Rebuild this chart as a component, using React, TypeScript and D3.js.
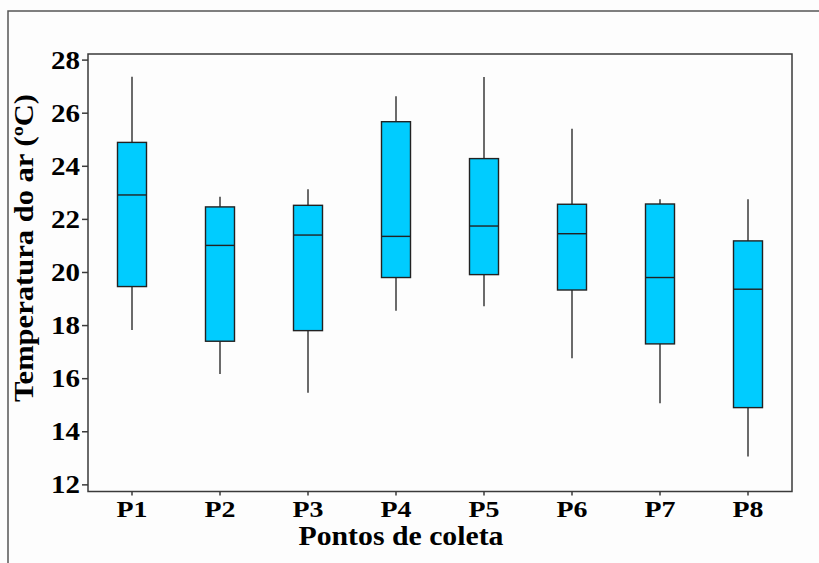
import React from "react";
import * as d3 from "d3";

const categories = ["P1", "P2", "P3", "P4", "P5", "P6", "P7", "P8"];
const whiskerLow = [17.83, 16.18, 15.47, 18.56, 18.73, 16.77, 15.07, 13.07];
const q1 = [19.47, 17.41, 17.81, 19.81, 19.92, 19.34, 17.31, 14.91];
const median = [22.92, 21.02, 21.41, 21.36, 21.75, 21.46, 19.81, 19.37];
const q3 = [24.9, 22.47, 22.53, 25.68, 24.29, 22.57, 22.58, 21.19];
const whiskerHigh = [27.37, 22.85, 23.14, 26.64, 27.36, 25.41, 22.76, 22.76];
const yTicks = [12, 14, 16, 18, 20, 22, 24, 26, 28];
const xTitle = "Pontos de coleta";
const yTitle = "Temperatura do ar (ºC)";

const W = 819;
const H = 563;
const plot = { left: 88, right: 792, top: 54, bottom: 491.5 };
const FONT = "'Liberation Serif', 'Times New Roman', serif";
const FILL = "#00CCFF";
const LINE = "#3a3a3a";

export default function App() {
  const x = d3.scaleBand<string>().domain(categories).range([plot.left, plot.right]);
  const y = d3.scaleLinear().domain([11.75, 28.23]).range([plot.bottom, plot.top]);
  const bw = 29;

  return (
    <svg
      width={W}
      height={H}
      style={{ position: "absolute", left: 0, top: 0, background: "#fdfdfd" }}
    >
      {/* outer frame */}
      <path d={`M8,${H + 5} L8,11 L${W + 5},11`} fill="none" stroke="#555" strokeWidth={1.5} />

      {/* plot frame */}
      <rect
        x={plot.left}
        y={plot.top}
        width={plot.right - plot.left}
        height={plot.bottom - plot.top}
        fill="none"
        stroke={LINE}
        strokeWidth={1.5}
      />

      {/* y ticks */}
      {yTicks.map((t) => (
        <g key={t}>
          <line x1={plot.left - 6} x2={plot.left} y1={y(t)} y2={y(t)} stroke={LINE} strokeWidth={1.5} />
          <text
            x={80}
            y={y(t)}
            dy="0.34em"
            textAnchor="end"
            fontFamily={FONT}
            fontWeight="bold"
            fontSize={25}
            textLength={29}
            lengthAdjust="spacingAndGlyphs"
            fill="#000"
          >
            {t}
          </text>
        </g>
      ))}

      {/* x ticks */}
      {categories.map((c) => {
        const cx = (x(c) as number) + x.bandwidth() / 2;
        return (
          <g key={c}>
            <line x1={cx} x2={cx} y1={plot.bottom} y2={plot.bottom + 4} stroke={LINE} strokeWidth={1.5} />
            <text
              x={cx}
              y={517}
              textAnchor="middle"
              fontFamily={FONT}
              fontWeight="bold"
              fontSize={24}
              textLength={31}
              lengthAdjust="spacingAndGlyphs"
              fill="#000"
            >
              {c}
            </text>
          </g>
        );
      })}

      {/* boxes */}
      {categories.map((c, i) => {
        const cx = (x(c) as number) + x.bandwidth() / 2;
        return (
          <g key={c}>
            <line x1={cx} x2={cx} y1={y(whiskerHigh[i])} y2={y(q3[i])} stroke={LINE} strokeWidth={1.5} />
            <line x1={cx} x2={cx} y1={y(q1[i])} y2={y(whiskerLow[i])} stroke={LINE} strokeWidth={1.5} />
            <rect
              x={cx - bw / 2}
              y={y(q3[i])}
              width={bw}
              height={y(q1[i]) - y(q3[i])}
              fill={FILL}
              stroke="#222"
              strokeWidth={1.4}
            />
            <line
              x1={cx - bw / 2}
              x2={cx + bw / 2}
              y1={y(median[i])}
              y2={y(median[i])}
              stroke="#222"
              strokeWidth={1.4}
            />
          </g>
        );
      })}

      {/* axis titles */}
      <text
        x={401}
        y={545}
        textAnchor="middle"
        fontFamily={FONT}
        fontWeight="bold"
        fontSize={27}
        textLength={205}
        lengthAdjust="spacingAndGlyphs"
        fill="#000"
      >
        {xTitle}
      </text>
      <text
        transform={`translate(33, 248) rotate(-90)`}
        textAnchor="middle"
        fontFamily={FONT}
        fontWeight="bold"
        fontSize={27}
        textLength={308}
        lengthAdjust="spacingAndGlyphs"
        fill="#000"
      >
        {yTitle}
      </text>
    </svg>
  );
}
